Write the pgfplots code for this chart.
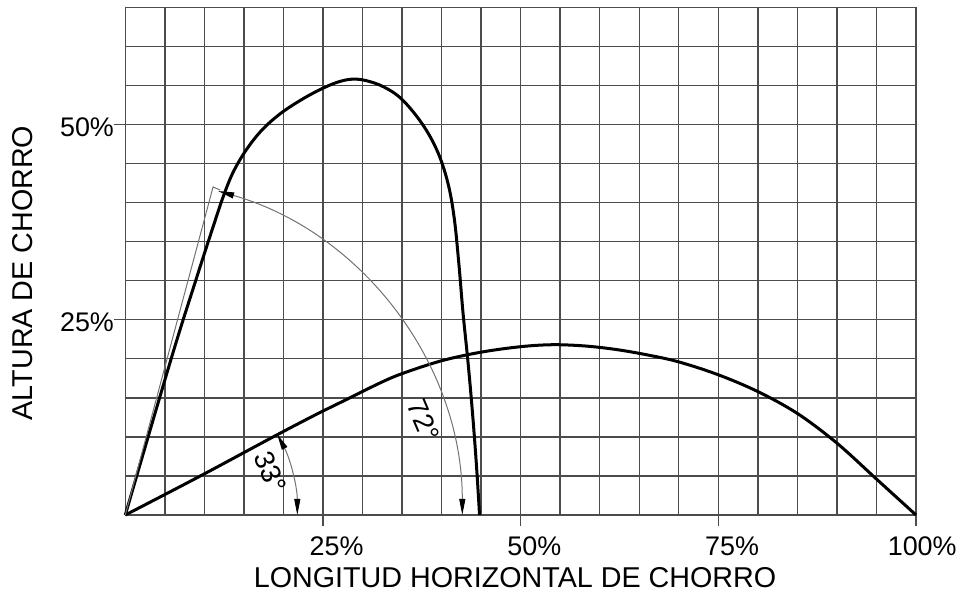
\documentclass[border=0pt]{standalone}
\usepackage{pgfplots}
\pgfplotsset{compat=1.18}
\usepackage{fontspec}
\setmainfont{Liberation Sans}
\usetikzlibrary{arrows.meta}
\begin{document}
\begin{tikzpicture}
\path[use as bounding box] (0,0) rectangle (480bp,296.5bp);
\begin{axis}[
  scale only axis, width=395.35bp, height=253.85bp,
  at={(62.65bp,39bp)}, anchor=south west,
  xmin=0, xmax=100, ymin=0, ymax=65,
  xtick={25,50,75,100}, xticklabels={25\%,50\%,75\%,100\%},
  ytick={25,50}, yticklabels={25\%,50\%},
  minor xtick={5,10,...,95}, minor ytick={5,10,...,60},
  grid=both,
  major grid style={black!70, line width=0.7bp},
  minor grid style={black!70, line width=0.7bp},
  axis line style={black!70, line width=0.7bp},
  tick style={black!70, line width=0.7bp},
  tick align=outside, major tick length=5.5bp, minor tick length=0pt,
  tick pos=left,
  xticklabel style={font=\fontsize{13.5}{15}\selectfont, anchor=north east, inner sep=0pt, xshift=20.5bp, yshift=-5bp},
  yticklabel style={font=\fontsize{13.5}{15}\selectfont, anchor=east, inner sep=0pt, yshift=-1.5bp},
  xlabel={LONGITUD HORIZONTAL DE CHORRO},
  ylabel={ALTURA DE CHORRO},
  every axis x label/.style={at={(axis description cs:0.4929,-0.124)}, anchor=center, font=\fontsize{14.4}{16}\selectfont},
  every axis y label/.style={at={(axis description cs:-0.1294,0.4767)}, anchor=center, rotate=90, font=\fontsize{14.4}{16}\selectfont},
  clip=false,
]
% 72 degree jet
\addplot[black, line width=1.5bp, smooth, tension=0.6] coordinates {
(0,0) (5.8,20) (8.9,30) (11.3,37.5) (12.4,40.8) (13.6,43.8) (15.2,46.6) (17.2,49.2) (19.5,51.3) (22,53.0)
(24.5,54.4) (26.8,55.4) (28.7,55.8) (30.5,55.6) (32.7,54.8) (35,53.2) (37.6,50) (39.5,46.5) (40.8,42.5)
(41.6,38) (42.2,32) (42.7,26) (43.3,20) (43.75,15) (44.15,10) (44.5,5) (44.8,0)
};
% 33 degree jet
\addplot[black, line width=1.5bp, smooth, tension=0.55] coordinates {
(0,0) (9.5,5) (18.7,10) (24,12.8) (28,14.8) (32.2,16.9) (35,18.1) (40,19.75) (45,20.85)
(50,21.55) (54,21.8) (58,21.65) (62,21.2) (66,20.5) (70,19.6) (75,17.95) (80,15.8)
(85,13.0) (90,9.2) (95,4.6) (100,0)
};
% annotations
\draw[black!55, line width=0.5bp] (axis cs:0,0) -- (axis cs:11.1,42) -- (axis cs:12.0,41.6);
\draw[black!55, line width=0.5bp, {Triangle[length=8bp,width=3bp,black]}-{Triangle[length=8bp,width=3bp,black]}]
  ([shift={(74:168.5bp)}]axis cs:0,0) arc[start angle=74, end angle=0, radius=168.5bp];
\draw[black!55, line width=0.5bp, {Triangle[length=8bp,width=3bp,black]}-{Triangle[length=8bp,width=3bp,black]}]
  ([shift={(28:86bp)}]axis cs:0,0) arc[start angle=28, end angle=0, radius=86bp];
\node[rotate=-67, font=\fontsize{14}{16}\selectfont, inner sep=0pt] at (axis cs:37.7,12.1) {72°};
\node[rotate=-68, font=\fontsize{14}{16}\selectfont, inner sep=0pt] at (axis cs:18.4,5.5) {33°};
\end{axis}
\end{tikzpicture}
\end{document}
